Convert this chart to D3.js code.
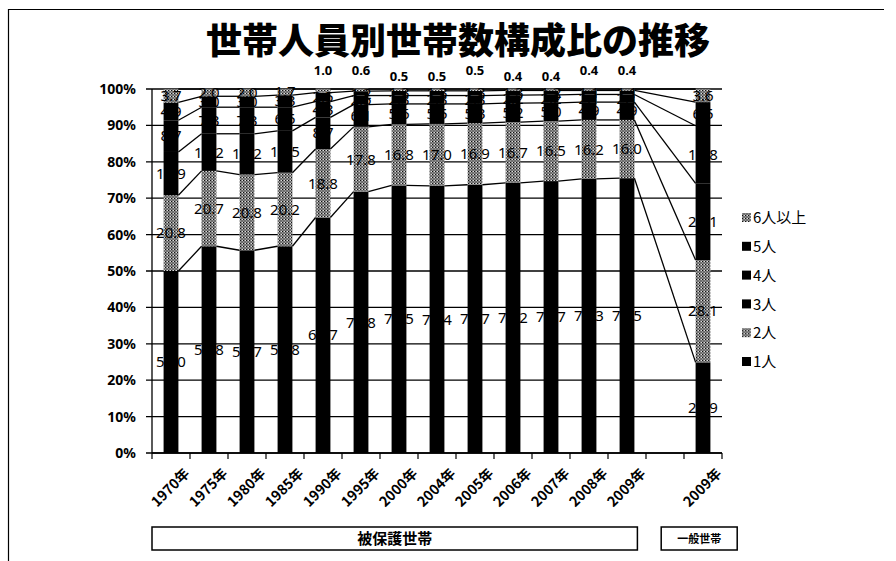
<!DOCTYPE html>
<html>
<head>
<meta charset="utf-8">
<script src="https://cdn.jsdelivr.net/npm/d3@7"></script>
<style>
body { margin: 0; background: #fff; }
text { font-family: "Noto Sans", "Noto Sans CJK JP", sans-serif; }
</style>
</head>
<body>
<svg id="chart" width="896" height="561"></svg>
<script>
// categories (index 13 is the empty gap between the two groups)
var categories = ["1970年", "1975年", "1980年", "1985年", "1990年", "1995年", "2000年",
    "2004年", "2005年", "2006年", "2007年", "2008年", "2009年", "", "2009年"];
var seriesNames = ["1人", "2人", "3人", "4人", "5人", "6人以上"];

// composition ratios (%) by household size
var p1 = [50.0, 56.8, 55.7, 56.8, 64.7, 71.8, 73.5, 73.4, 73.7, 74.2, 74.7, 75.3, 75.5, null, 24.9];
var p2 = [20.8, 20.7, 20.8, 20.2, 18.8, 17.8, 16.8, 17.0, 16.9, 16.7, 16.5, 16.2, 16.0, null, 28.1];
var p3 = [11.9, 10.2, 11.2, 11.5, 8.7, 6.1, 5.6, 5.5, 5.3, 5.2, 5.0, 4.9, 4.9, null, 21.1];
var p4 = [8.7, 7.3, 7.3, 6.5, 4.3, 2.5, 2.3, 2.3, 2.3, 2.2, 2.2, 2.1, 2.1, null, 15.8];
var p5 = [4.9, 3.0, 3.0, 3.3, 2.5, 1.2, 1.3, 1.3, 1.3, 1.3, 1.2, 1.1, 1.1, null, 6.5];
var p6 = [3.7, 2.0, 2.0, 1.7, 1.0, 0.6, 0.5, 0.5, 0.5, 0.4, 0.4, 0.4, 0.4, null, 3.6];

var yTicks = [0, 0.1, 0.2, 0.3, 0.4, 0.5, 0.6, 0.7, 0.8, 0.9, 1.0];
var groupNames = ["被保護世帯", "一般世帯"];

var seriesValues = [p1, p2, p3, p4, p5, p6];
var seriesFill = ["#000", "url(#dots)", "#000", "#000", "#000", "url(#dots)"];

var svg = d3.select("#chart");

// stipple pattern for the grey series
var pat = svg.append("defs").append("pattern")
    .attr("id", "dots")
    .attr("width", 3).attr("height", 3)
    .attr("patternUnits", "userSpaceOnUse");
pat.append("rect").attr("width", 3).attr("height", 3).attr("fill", "#8c8c8c");
pat.append("rect").attr("x", 0).attr("y", 0).attr("width", 1).attr("height", 1).attr("fill", "#111");
pat.append("rect").attr("x", 1.5).attr("y", 1.5).attr("width", 1).attr("height", 1).attr("fill", "#222");
pat.append("rect").attr("x", 2).attr("y", 0).attr("width", 1).attr("height", 1).attr("fill", "#ddd");

// outer frame
svg.append("path")
    .attr("d", "M8.5,561 V9.5 H884")
    .attr("fill", "none").attr("stroke", "#000").attr("stroke-width", 1.2);

// title
svg.append("text")
    .attr("x", 458).attr("y", 54)
    .attr("text-anchor", "middle")
    .style("font-family", "'Noto Sans CJK JP', sans-serif")
    .style("font-weight", 900)
    .style("font-size", "36px")
    .text("世帯人員別世帯数構成比の推移");

var plotL = 152, plotR = 722, plotT = 89, plotB = 453;

var x = d3.scaleBand()
    .domain(d3.range(categories.length))
    .range([plotL, plotR])
    .paddingInner(0.61)
    .paddingOuter(0.305);

var y = d3.scaleLinear().domain([0, 1]).range([plotB, plotT]);

// table for the stack
var rows = categories.map(function(c, i) {
    var r = { idx: i };
    seriesNames.forEach(function(s, k) { r[s] = seriesValues[k][i] || 0; });
    return r;
});
var valid = rows.filter(function(r) { return p1[r.idx] != null; });

var stack = d3.stack()
    .keys(seriesNames)
    .offset(d3.stackOffsetExpand);
var layers = stack(valid);

// gridlines
svg.append("g").selectAll("line")
    .data(yTicks)
    .enter().append("line")
    .attr("x1", plotL - 6).attr("x2", plotR)
    .attr("y1", function(d) { return y(d); })
    .attr("y2", function(d) { return y(d); })
    .attr("stroke", "#000").attr("stroke-width", 1.3);

// y labels
svg.append("g").selectAll("text")
    .data(yTicks)
    .enter().append("text")
    .attr("x", 136)
    .attr("y", function(d) { return y(d); })
    .attr("dy", "0.35em")
    .attr("text-anchor", "end")
    .style("font-size", "14px")
    .style("font-weight", "bold")
    .text(function(d) { return d3.format(".0%")(d); });

// bars
svg.append("g").selectAll("g")
    .data(layers)
    .enter().append("g")
    .attr("fill", function(d, k) { return seriesFill[k]; })
    .selectAll("rect")
    .data(function(d) { return d; })
    .enter().append("rect")
    .attr("x", function(d) { return x(d.data.idx); })
    .attr("width", x.bandwidth())
    .attr("y", function(d) { return y(d[1]); })
    .attr("height", function(d) { return y(d[0]) - y(d[1]); });

// series lines between neighbouring bars
layers.forEach(function(layer) {
    for (var j = 0; j < layer.length - 1; j++) {
        var a = layer[j], b = layer[j + 1];
        svg.append("line")
            .attr("x1", x(a.data.idx) + x.bandwidth())
            .attr("x2", x(b.data.idx))
            .attr("y1", y(a[1]))
            .attr("y2", y(b[1]))
            .attr("stroke", "#000")
            .attr("stroke-width", 1.3);
    }
});

// axes lines and ticks
svg.append("line")
    .attr("x1", plotL).attr("x2", plotL).attr("y1", plotT).attr("y2", plotB)
    .attr("stroke", "#000").attr("stroke-width", 1.3);
svg.append("line")
    .attr("x1", plotL).attr("x2", plotR).attr("y1", plotB).attr("y2", plotB)
    .attr("stroke", "#000").attr("stroke-width", 1.3);
svg.append("g").selectAll("line")
    .data(d3.range(categories.length + 1))
    .enter().append("line")
    .attr("x1", function(i) { return plotL + i * x.step(); })
    .attr("x2", function(i) { return plotL + i * x.step(); })
    .attr("y1", plotB).attr("y2", plotB + 6)
    .attr("stroke", "#000").attr("stroke-width", 1.2);

// category labels
svg.append("g").selectAll("text")
    .data(categories.map(function(c, i) { return { c: c, i: i }; }))
    .enter().append("text")
    .attr("transform", function(d) {
        return "translate(" + (x(d.i) + x.bandwidth() / 2 + 16) + "," + 471 + ") rotate(-45)";
    })
    .attr("text-anchor", "end")
    .attr("dy", "0.35em")
    .style("font-size", "14px")
    .style("font-weight", "bold")
    .style("font-family", "'Noto Sans CJK JP', sans-serif")
    .text(function(d) { return d.c; });

// data labels; small 6人以上 shares of the later years were lifted above the plot
var liftedY = [70, 70, 76, 76, 70, 76, 76, 70, 70];
layers.forEach(function(layer, k) {
    layer.forEach(function(d) {
        var i = d.data.idx;
        var v = seriesValues[k][i];
        var cy = y((d[0] + d[1]) / 2);
        var lifted = (k === 5 && i >= 4 && i <= 12);
        if (lifted) cy = liftedY[i - 4];
        svg.append("text")
            .attr("x", x(i) + x.bandwidth() / 2)
            .attr("y", cy)
            .attr("dy", "0.35em")
            .attr("text-anchor", "middle")
            .style("font-size", lifted ? "13px" : "15px")
            .style("font-weight", lifted ? "bold" : "normal")
            .text(d3.format(".1f")(v));
    });
});

// legend (reverse order)
var legend = svg.append("g").selectAll("g")
    .data(seriesNames.slice().reverse())
    .enter().append("g")
    .attr("transform", function(d, i) { return "translate(742," + (218 + i * 28.8) + ")"; });
legend.append("rect")
    .attr("x", 0).attr("y", -5).attr("width", 9).attr("height", 9)
    .attr("fill", function(d) { return seriesFill[seriesNames.indexOf(d)]; });
legend.append("text")
    .attr("x", 11).attr("dy", "0.35em")
    .style("font-size", "15px")
    .style("font-family", "'Noto Sans CJK JP', sans-serif")
    .text(function(d) { return d; });

// group boxes under the axis
var boxes = [
    { name: groupNames[0], x0: plotL, x1: plotL + 12.8 * x.step() - 1 },
    { name: groupNames[1], x0: plotL + 13.4 * x.step(), x1: plotL + 15.4 * x.step() }
];
var gb = svg.append("g").selectAll("g").data(boxes).enter().append("g");
gb.append("rect")
    .attr("x", function(d) { return d.x0; })
    .attr("y", 527)
    .attr("width", function(d) { return d.x1 - d.x0; })
    .attr("height", 23)
    .attr("fill", "#fff")
    .attr("stroke", "#000").attr("stroke-width", 1.5);
gb.append("text")
    .attr("x", function(d) { return (d.x0 + d.x1) / 2; })
    .attr("y", 539)
    .attr("dy", "0.35em")
    .attr("text-anchor", "middle")
    .style("font-family", "'Noto Sans CJK JP', sans-serif")
    .style("font-weight", "bold")
    .style("font-size", function(d, i) { return i === 0 ? "15px" : "11px"; })
    .text(function(d) { return d.name; });
</script>
</body>
</html>
